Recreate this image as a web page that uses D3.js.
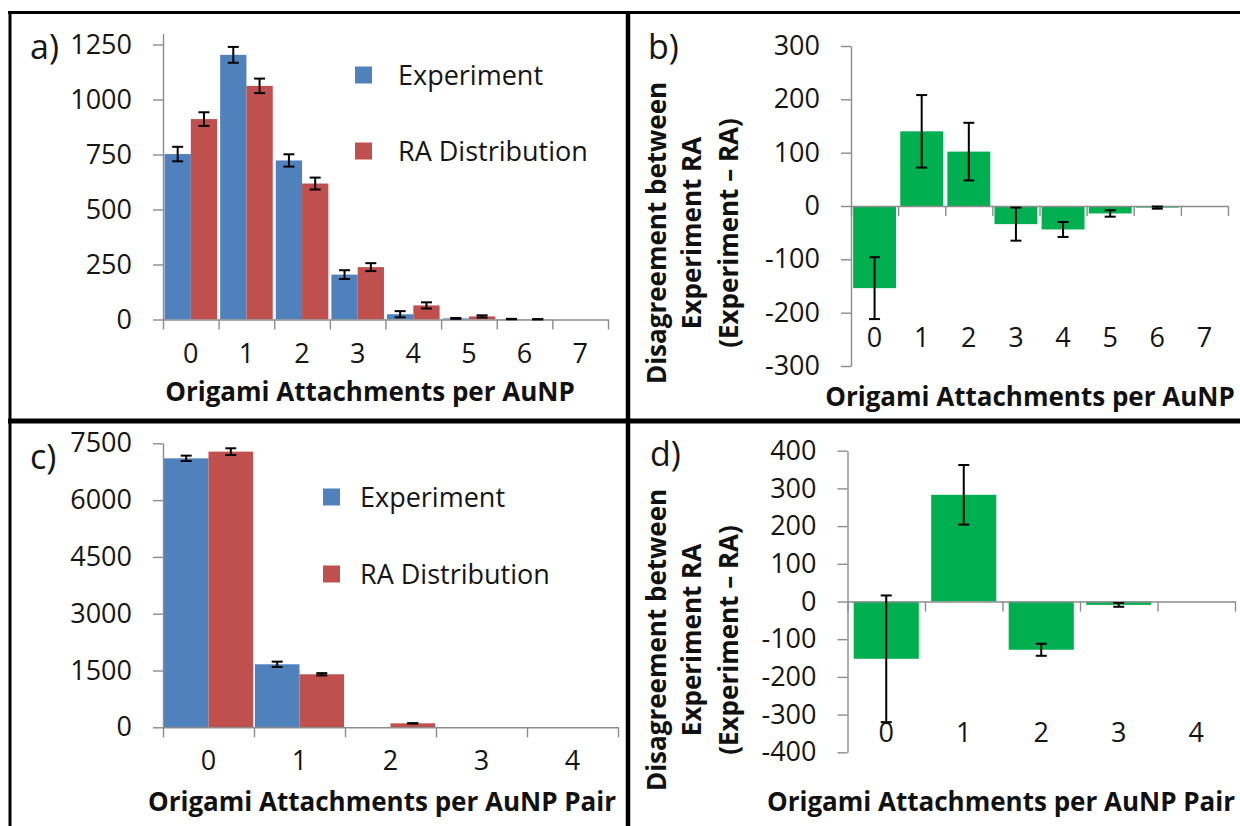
<!DOCTYPE html>
<html>
<head>
<meta charset="utf-8">
<script src="https://cdnjs.cloudflare.com/ajax/libs/d3/7.8.5/d3.min.js"></script>
<style>
  body { margin: 0; background: #fff; }
  svg { display: block; font-family: 'Open Sans', sans-serif; }
  .axis path, .axis line { stroke: #8c8c8c; stroke-width: 1.4; }
  .axis text { font-size: 27px; fill: #151515; font-family: 'Open Sans', sans-serif; }
  .lbl { font-size: 27px; fill: #151515; }
  .ttl { font-size: 26px; font-weight: bold; fill: #111; }
  .tag { font-size: 34px; fill: #151515; }
</style>
</head>
<body>
<svg id="chart" width="1240" height="826"></svg>
<script>
// a) attachments per AuNP
var catsA = ['0', '1', '2', '3', '4', '5', '6', '7']
var expA = [752, 1203, 723, 204, 24, 5, 2, 0]
var expErrA = [33, 36, 28, 20, 14, 2, 1, 0]
var raA = [911, 1062, 618, 238, 64, 14, 1, 0]
var raErrA = [31, 33, 27, 18, 14, 5, 0, 0]
var ticksA = [0, 250, 500, 750, 1000, 1250]

// b) experiment - RA, per AuNP
var diffB = [-154, 140, 102, -34, -44, -14, -3, 0]
var diffErrB = [58, 68, 54, 31, 14, 6, 2, 0]
var ticksB = [-300, -200, -100, 0, 100, 200, 300]

// c) attachments per AuNP pair
var catsC = ['0', '1', '2', '3', '4']
var expC = [7103, 1664, 0, 0, 0]
var expErrC = [71, 70, 0, 0, 0]
var raC = [7280, 1400, 105, 0, 0]
var raErrC = [88, 30, 0, 0, 0]
var ticksC = [0, 1500, 3000, 4500, 6000, 7500]

// d) experiment - RA, per AuNP pair
var diffD = [-152, 283, -128, -9, 0]
var diffErrD = [168, 79, 16, 5, 0]
var ticksD = [-400, -300, -200, -100, 0, 100, 200, 300, 400]

var seriesNames = ['Experiment', 'RA Distribution']
var blue = '#4f81bd', red = '#c0504d', green = '#00b050'

var svg = d3.select('#chart')

var drawPanel = (p) => {
  var g = svg.append('g')
  var x = d3.scaleBand().domain(p.cats).range(p.xRange).paddingInner(p.pad).paddingOuter(p.pad / 2)
  var y = d3.scaleLinear().domain(p.yDomain).range(p.yRange)
  var sub = d3.scaleBand().domain(d3.range(p.series.length)).range([0, x.bandwidth()])

  p.series.forEach((s, k) => {
    g.append('g').selectAll('rect')
      .data(s.values)
      .join('rect')
      .attr('x', (d, i) => x(p.cats[i]) + sub(k))
      .attr('y', (d) => y(Math.max(0, d)))
      .attr('width', sub.bandwidth())
      .attr('height', (d) => Math.abs(y(d) - y(0)))
      .attr('fill', s.color)
  })

  g.append('g')
    .attr('class', 'axis')
    .attr('transform', 'translate(' + p.xRange[0] + ',0)')
    .call(d3.axisLeft(y).tickValues(p.yTicks).tickSize(10).tickSizeOuter(0)
          .tickPadding(21).tickFormat((d) => String(d)))

  var edges = d3.scaleLinear().domain([0, p.cats.length]).range(p.xRange)
  g.append('g')
    .attr('class', 'axis')
    .attr('transform', 'translate(0,' + y(0) + ')')
    .call(d3.axisBottom(edges).tickValues(d3.range(p.cats.length + 1))
          .tickSize(10).tickSizeOuter(0).tickFormat(''))

  // error bars
  p.series.forEach((s, k) => {
    var cx = (i) => x(p.cats[i]) + sub(k) + sub.bandwidth() / 2
    var eb = g.append('g').selectAll('g')
      .data(s.values.map((v, i) => ({ v, e: s.err[i], i })).filter((d) => d.v !== 0 || d.e !== 0))
      .join('g')
      .attr('stroke', '#000')
      .attr('stroke-width', 2)
    eb.append('line')
      .attr('x1', (d) => cx(d.i)).attr('x2', (d) => cx(d.i))
      .attr('y1', (d) => y(d.v - d.e)).attr('y2', (d) => y(d.v + d.e))
    eb.append('line')
      .attr('x1', (d) => cx(d.i) - 5.5).attr('x2', (d) => cx(d.i) + 5.5)
      .attr('y1', (d) => y(d.v + d.e)).attr('y2', (d) => y(d.v + d.e))
    eb.append('line')
      .attr('x1', (d) => cx(d.i) - 5.5).attr('x2', (d) => cx(d.i) + 5.5)
      .attr('y1', (d) => y(d.v - d.e)).attr('y2', (d) => y(d.v - d.e))
  })

  g.append('g').selectAll('text')
    .data(p.cats)
    .join('text')
    .attr('class', 'lbl')
    .attr('text-anchor', 'middle')
    .attr('x', (d) => x(d) + x.bandwidth() / 2)
    .attr('y', p.labelY)
    .attr('dy', '0.36em')
    .text((d) => d)

  g.append('text')
    .attr('class', 'ttl')
    .attr('text-anchor', 'middle')
    .attr('x', p.title[0]).attr('y', p.title[1])
    .attr('dy', '0.36em')
    .text(p.title[2])

  g.append('text')
    .attr('class', 'tag')
    .attr('x', p.tag[0]).attr('y', p.tag[1])
    .text(p.tag[2])

  if (p.legend) {
    var leg = g.append('g').selectAll('g')
      .data(p.series)
      .join('g')
      .attr('transform', (s, k) => 'translate(' + p.legend.x + ',' + p.legend.ys[k] + ')')
    leg.append('rect')
      .attr('x', 0).attr('y', -8.5)
      .attr('width', 17).attr('height', 17)
      .attr('fill', (s) => s.color)
    leg.append('text')
      .attr('class', 'lbl')
      .attr('x', p.legend.textX)
      .attr('dy', '0.36em')
      .text((s) => s.name)
  }

  if (p.yTitle) {
    g.append('g').selectAll('text')
      .data(p.yTitle.lines)
      .join('text')
      .attr('class', 'ttl')
      .attr('text-anchor', 'middle')
      .attr('transform', (d, i) => 'translate(' + p.yTitle.xs[i] + ',' + p.yTitle.y + ') rotate(-90)')
      .attr('dy', '0.36em')
      .text((d) => d)
  }
}

var diffTitle = ['Disagreement between', 'Experiment RA', '(Experiment \u2013 RA)']

drawPanel({
  cats: catsA, xRange: [163, 608], pad: 0.055,
  yDomain: [0, 1300], yRange: [319.5, 33.5], yTicks: ticksA,
  series: [{ name: seriesNames[0], values: expA, err: expErrA, color: blue },
           { name: seriesNames[1], values: raA, err: raErrA, color: red }],
  labelY: 353, title: [370, 392, 'Origami Attachments per AuNP'], tag: [30, 59, 'a)'],
  legend: { x: 355, textX: 43, ys: [75, 151] }
})

drawPanel({
  cats: catsA, xRange: [851, 1228], pad: 0.09,
  yDomain: [-300, 300], yRange: [366, 46], yTicks: ticksB,
  series: [{ name: 'diff', values: diffB, err: diffErrB, color: green }],
  labelY: 337, title: [1030, 397, 'Origami Attachments per AuNP'], tag: [648, 59, 'b)'],
  yTitle: { lines: diffTitle, xs: [657, 692, 729], y: 233 }
})

drawPanel({
  cats: catsC, xRange: [163, 618], pad: 0.02,
  yDomain: [0, 7500], yRange: [727.3, 443.3], yTicks: ticksC,
  series: [{ name: seriesNames[0], values: expC, err: expErrC, color: blue },
           { name: seriesNames[1], values: raC, err: raErrC, color: red }],
  labelY: 760, title: [382, 802, 'Origami Attachments per AuNP Pair'], tag: [30, 469, 'c)'],
  legend: { x: 323, textX: 37, ys: [497, 574] }
})

drawPanel({
  cats: catsC, xRange: [847.5, 1235], pad: 0.16,
  yDomain: [-400, 400], yRange: [752.3, 450.7], yTicks: ticksD,
  series: [{ name: 'diff', values: diffD, err: diffErrD, color: green }],
  labelY: 732, title: [1001, 802, 'Origami Attachments per AuNP Pair'], tag: [650, 466, 'd)'],
  yTitle: { lines: diffTitle, xs: [657, 692, 729], y: 640 }
})

// panel frame
var frame = [
  { x1: 8, y1: 12.5, x2: 1240, y2: 12.5, w: 3 },
  { x1: 10, y1: 11, x2: 10, y2: 826, w: 3 },
  { x1: 628, y1: 11, x2: 628, y2: 826, w: 4.5 },
  { x1: 8, y1: 421, x2: 1240, y2: 421, w: 5 }
]
svg.append('g').selectAll('line')
  .data(frame)
  .join('line')
  .attr('x1', (d) => d.x1).attr('y1', (d) => d.y1)
  .attr('x2', (d) => d.x2).attr('y2', (d) => d.y2)
  .attr('stroke', '#000')
  .attr('stroke-width', (d) => d.w)
</script>
</body>
</html>
